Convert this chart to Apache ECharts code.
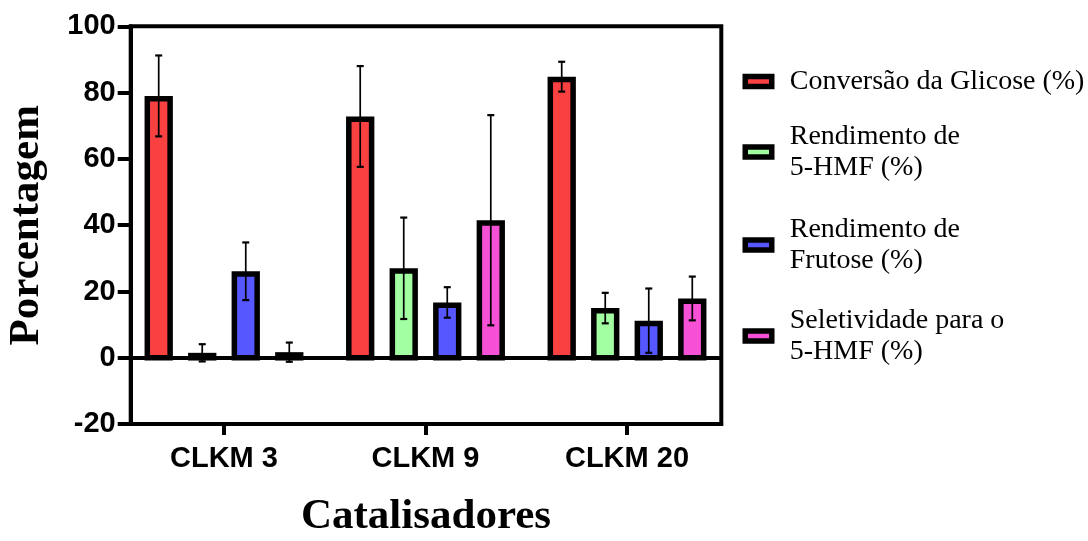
<!DOCTYPE html>
<html>
<head>
<meta charset="utf-8">
<script src="https://cdn.jsdelivr.net/npm/echarts@6/dist/echarts.min.js"></script>
<style>
  html, body { margin: 0; padding: 0; background: #ffffff; }
  #chart { width: 1088px; height: 541px; }
</style>
</head>
<body>
<div id="chart"></div>
<script>
// ---- data ----
const categories = ['CLKM 3', 'CLKM 9', 'CLKM 20'];
const seriesNames = [
  'Conversão da Glicose (%)',
  'Rendimento de\n5-HMF (%)',
  'Rendimento de\nFrutose (%)',
  'Seletividade para o\n5-HMF (%)'
];
const conversaoGlicose    = [79.0, 72.8, 84.8];
const conversaoGlicoseErr = [12.2, 15.2, 4.5];
const rendimentoHMF       = [1.5, 27.0, 15.0];
const rendimentoHMFErr    = [2.6, 15.3, 4.6];
const rendimentoFrutose    = [26.1, 16.7, 11.2];
const rendimentoFrutoseErr = [8.7, 4.6, 9.7];
const seletividadeHMF    = [1.7, 41.5, 17.9];
const seletividadeHMFErr = [2.9, 31.7, 6.6];
const yTicks = [-20, 0, 20, 40, 60, 80, 100];

// ---- styling / layout ----
const colors = ['#F94141', '#A2FFA2', '#5757FF', '#F550D6'];
const means = [conversaoGlicose, rendimentoHMF, rendimentoFrutose, seletividadeHMF];
const errs = [conversaoGlicoseErr, rendimentoHMFErr, rendimentoFrutoseErr, seletividadeHMFErr];
const BAR_STEP = 0.216;   // distance between bars of one group, in category units
const BAR_WIDTH = 0.1405; // outer bar width, in category units
const BAR_BORDER = 5.5;
const CAP_HALF = 3.5;
const X_MIN = -0.463, X_MAX = 2.468;
const SANS = '"Liberation Sans", Arial, Helvetica, sans-serif';
const SERIF = '"Liberation Serif", "Times New Roman", Times, serif';

function barCenter(api, catIndex, s) {
  const unit = api.size([1, 0])[0];
  return api.coord([catIndex, 0])[0] + (s - 1.5) * BAR_STEP * unit;
}

function barSeries(s) {
  return {
    type: 'custom',
    name: seriesNames[s],
    z: 2,
    silent: true,
    itemStyle: { color: colors[s], borderColor: '#000', borderWidth: BAR_BORDER },
    encode: { x: 0, y: 1 },
    data: means[s].map((v, i) => [i, v]),
    renderItem: function (params, api) {
      const cx = barCenter(api, api.value(0), s);
      const w = api.size([BAR_WIDTH, 0])[0];
      const top = api.coord([api.value(0), api.value(1)])[1];
      const base = api.coord([api.value(0), 0])[1];
      const b = BAR_BORDER;
      return {
        type: 'rect',
        shape: {
          x: cx - w / 2 + b / 2,
          y: top + b / 2,
          width: w - b,
          height: Math.max(0, base - top - b / 2)
        },
        style: { fill: colors[s], stroke: '#000', lineWidth: b }
      };
    }
  };
}

function errorSeries(s) {
  return {
    type: 'custom',
    name: seriesNames[s] + ' (erro)',
    z: 4,
    silent: true,
    encode: { x: 0, y: 1 },
    data: means[s].map((v, i) => [i, v, errs[s][i]]),
    renderItem: function (params, api) {
      const cx = barCenter(api, api.value(0), s);
      const m = api.value(1), e = api.value(2);
      const hi = api.coord([api.value(0), m + e])[1];
      const lo = api.coord([api.value(0), m - e])[1];
      const st = { stroke: '#000', lineWidth: 1.7 };
      const cap = { stroke: '#000', lineWidth: 2.2 };
      return {
        type: 'group',
        children: [
          { type: 'line', shape: { x1: cx, y1: hi, x2: cx, y2: lo }, style: st },
          { type: 'line', shape: { x1: cx - CAP_HALF, y1: hi, x2: cx + CAP_HALF, y2: hi }, style: cap },
          { type: 'line', shape: { x1: cx - CAP_HALF, y1: lo, x2: cx + CAP_HALF, y2: lo }, style: cap }
        ]
      };
    }
  };
}

const series = [];
for (let s = 0; s < 4; s++) series.push(barSeries(s));
// zero baseline across the plot
series.push({
  type: 'line',
  name: 'zero',
  data: [],
  z: 3,
  silent: true,
  markLine: {
    silent: true,
    symbol: ['none', 'none'],
    label: { show: false },
    lineStyle: { color: '#000', width: 4, type: 'solid' },
    emphasis: { disabled: true },
    data: [{ yAxis: 0 }]
  }
});
for (let s = 0; s < 4; s++) series.push(errorSeries(s));

// legend: one block per entry, vertically centred on these rows
const legendCenters = [81.5, 152, 245, 336];
const LEGEND_LINE = 31;
const legends = seriesNames.map((name, i) => {
  const lines = name.split('\n').length;
  return {
    data: [name],
    left: 742.5,
    top: legendCenters[i] - lines * LEGEND_LINE / 2,
    orient: 'vertical',
    padding: 0,
    icon: 'rect',
    itemWidth: 26.5,
    itemHeight: 10,
    selectedMode: false,
    itemStyle: { color: colors[i], borderColor: '#000', borderWidth: BAR_BORDER },
    textStyle: {
      fontFamily: SERIF, fontSize: 28, color: '#000',
      lineHeight: LEGEND_LINE, padding: [0, 0, 0, 13]
    }
  };
});

const chart = echarts.init(document.getElementById('chart'), null, { renderer: 'canvas' });
chart.setOption({
  animation: false,
  backgroundColor: '#ffffff',
  legend: legends,
  grid: {
    left: 130.7, top: 26.3, width: 590.6, height: 397.8,
    outerBoundsMode: 'none',
    show: true, borderColor: '#000', borderWidth: 4, backgroundColor: 'transparent'
  },
  xAxis: {
    type: 'value',
    min: X_MIN,
    max: X_MAX,
    splitLine: { show: false },
    axisLine: { show: true, onZero: false, lineStyle: { color: '#000', width: 4 } },
    axisTick: { show: true, customValues: [0, 1, 2], length: 11, lineStyle: { color: '#000', width: 4 } },
    axisLabel: {
      customValues: [0, 1, 2],
      formatter: v => categories[Math.round(v)],
      margin: 20,
      fontFamily: SANS, fontWeight: 'bold', fontSize: 29, color: '#000'
    },
    name: 'Catalisadores',
    nameLocation: 'middle',
    nameGap: 71,
    nameTextStyle: { fontFamily: SERIF, fontWeight: 'bold', fontSize: 43, color: '#000' }
  },
  yAxis: {
    type: 'value',
    min: yTicks[0],
    max: yTicks[yTicks.length - 1],
    interval: yTicks[1] - yTicks[0],
    splitLine: { show: false },
    axisLine: { show: true, onZero: false, lineStyle: { color: '#000', width: 4 } },
    axisTick: { show: true, length: 13, lineStyle: { color: '#000', width: 4 } },
    axisLabel: {
      margin: 15,
      fontFamily: SANS, fontWeight: 'bold', fontSize: 29, color: '#000'
    },
    name: 'Porcentagem',
    nameLocation: 'middle',
    nameRotate: 90,
    nameGap: 82,
    nameTextStyle: { fontFamily: SERIF, fontWeight: 'bold', fontSize: 43, color: '#000' }
  },
  series: series
});
</script>
</body>
</html>
